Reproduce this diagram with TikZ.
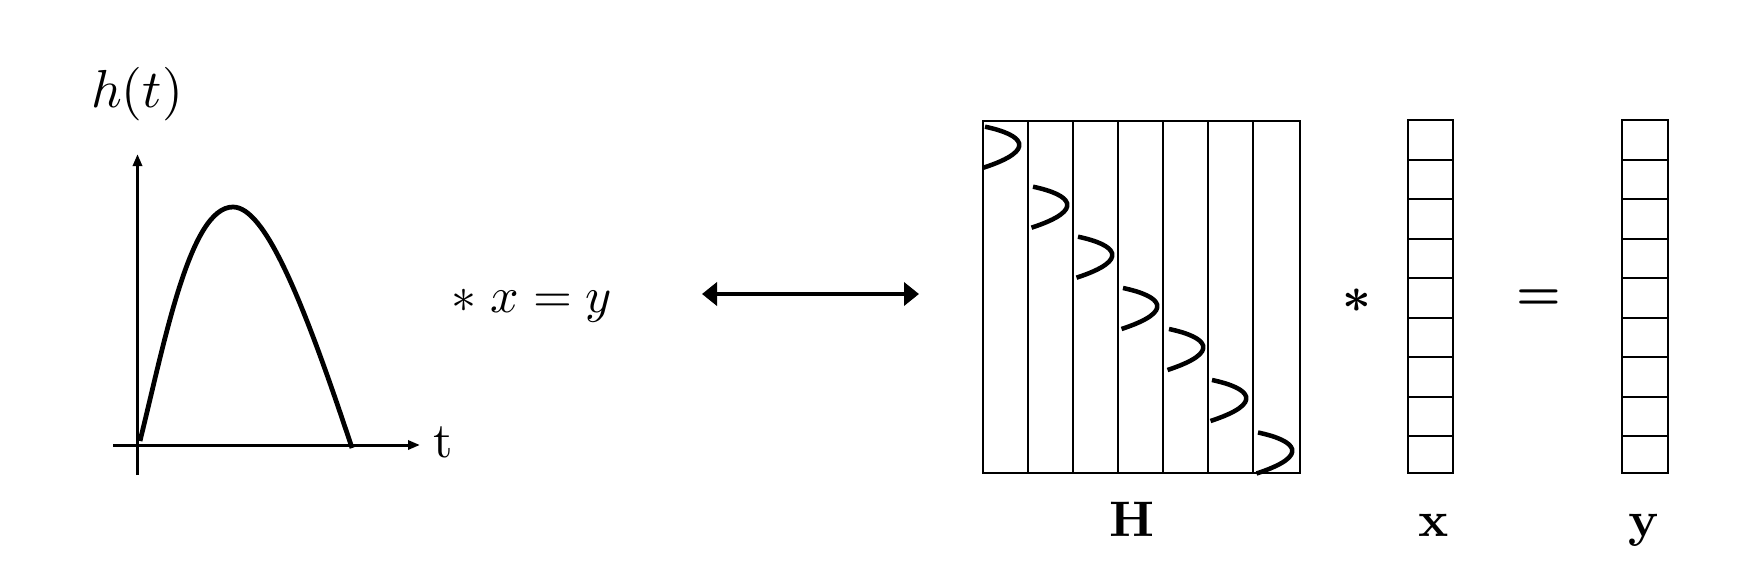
\documentclass[tikz,border=0pt]{standalone}
\usepackage{bm}
\usetikzlibrary{arrows.meta}
\begin{document}
\begin{tikzpicture}[x=0.2pt,y=-0.2pt,
  axis/.style={line width=0.6pt,-{Triangle[length=2.4pt,width=1.8pt]}},
  curvestyle/.style={line width=0.95pt},
  gridline/.style={line width=0.4pt},
  bump/.style={line width=0.9pt},
  dblarrow/.style={line width=0.85pt,{Triangle[length=3pt,width=4.6pt]}-{Triangle[length=3pt,width=4.6pt]}},
  lbl/.style={inner sep=0pt,anchor=base}]
\useasboundingbox (0,0) rectangle (1749,587);
% --- impulse response plot ---
\coordinate (ybot) at (137.5,475);
\coordinate (ytop) at (137.5,154);
\coordinate (xleft) at (113,445);
\coordinate (xright) at (420,445);
\draw[axis] (ybot) -- (ytop);
\draw[axis] (xleft) -- (xright);
\node[lbl,scale=1.07] (ht) at (137,108) {$h(t)$};
\node[lbl] (tl) at (443,457) {t};
\draw[curvestyle] (140,441) .. controls (165,340) and (190,207) .. (233,207)
  .. controls (265,207) and (303,300) .. (352,448);
\node[lbl] (eq) at (532,312) {$*\;x = y$};
% --- double arrow ---
\coordinate (arrL) at (702,294);
\coordinate (arrR) at (919,294);
\draw[dblarrow] (arrL) -- (arrR);
% --- matrix H ---
\draw[gridline] (982.7,120.7) rectangle (1300,472.7);
\foreach \xx in {1028.3,1073.3,1118.3,1163.3,1208.3,1253.3}
  \draw[gridline] (\xx,120.7) -- (\xx,472.7);
\foreach \sx/\sy in {985/126.7,1033/186.7,1078/236.7,1123/288,1169/329,1212/380,1258/432.5}
  \draw[bump] (\sx,\sy) .. controls +(38,8) and +(55,-18) .. ++(-1.5,41);
\node[lbl] (H) at (1132,536.5) {$\mathbf{H}$};
% --- operators ---
\node[lbl] (star) at (1356.5,312) {$\bm{*}$};
\node[lbl] (equals) at (1539,309) {$\bm{=}$};
% --- vector x ---
\draw[gridline] (1407.7,120) rectangle (1453.3,472.7);
\foreach \i in {1,...,8}
  \draw[gridline] (1407.7,120+\i*39.5) -- (1453.3,120+\i*39.5);
\node[lbl] (xl) at (1433.5,536.5) {$\mathbf{x}$};
% --- vector y ---
\draw[gridline] (1621.7,120) rectangle (1667.7,472.7);
\foreach \i in {1,...,8}
  \draw[gridline] (1621.7,120+\i*39.5) -- (1667.7,120+\i*39.5);
\node[lbl] (yl) at (1644.5,536.5) {$\mathbf{y}$};
\end{tikzpicture}
\end{document}
